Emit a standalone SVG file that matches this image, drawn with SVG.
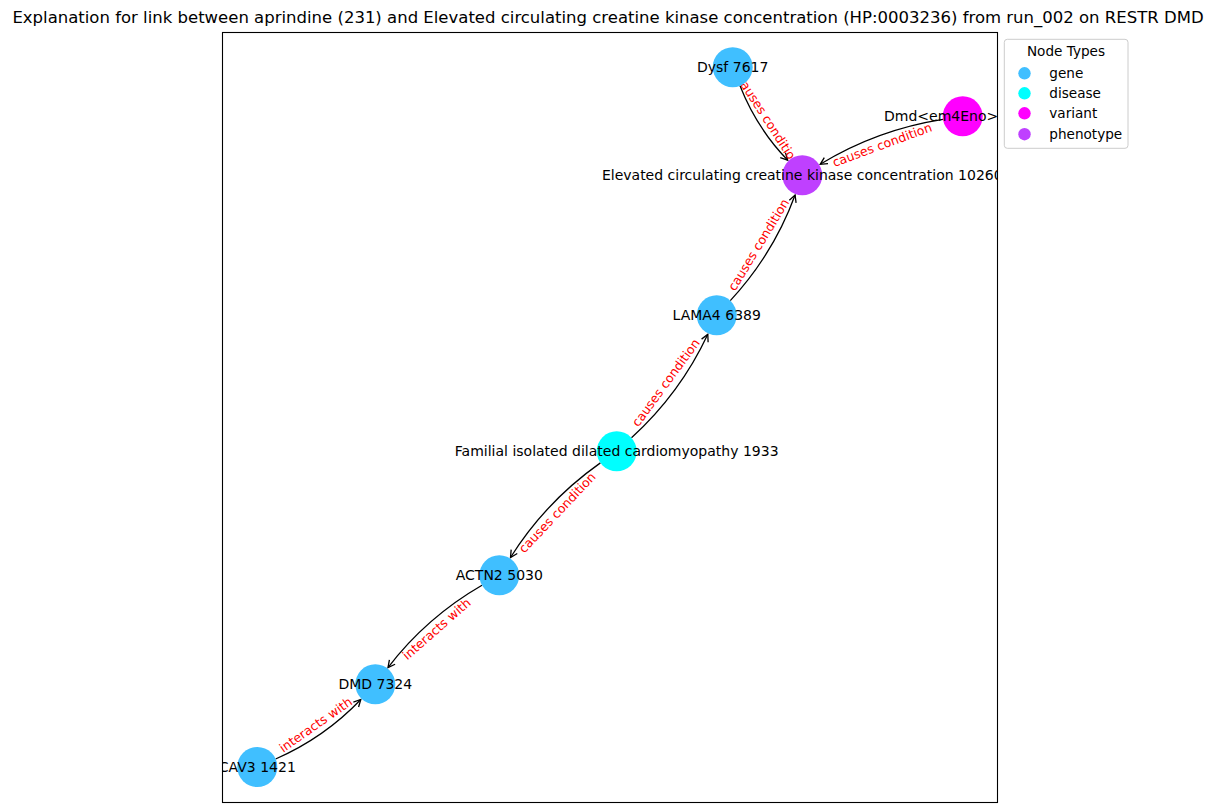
<svg xmlns="http://www.w3.org/2000/svg" width="1218" height="812" viewBox="0 0 1218 812">
<style>
.title{font-family:"DejaVu Sans","Liberation Sans",sans-serif;font-size:16.5px;fill:#000}
.nl{font-family:"DejaVu Sans","Liberation Sans",sans-serif;font-size:14px;fill:#000;text-anchor:middle}
.el{font-family:"DejaVu Sans","Liberation Sans",sans-serif;font-size:12.5px;fill:#ff0000;text-anchor:middle}
.lg{font-family:"DejaVu Sans","Liberation Sans",sans-serif;font-size:13.6px;fill:#000}
.edge{fill:none;stroke:#000;stroke-width:1.3;marker-end:url(#arr)}
.gene{fill:#40bfff}
.disease{fill:#00ffff}
.variant{fill:#ff00ff}
.phenotype{fill:#bf40ff}
</style>
<defs>
<clipPath id="ax"><rect x="222.5" y="32.5" width="775" height="770"/></clipPath>
<marker id="arr" markerUnits="userSpaceOnUse" markerWidth="14" markerHeight="14" viewBox="-10 -7 14 14" refX="0" refY="0" orient="auto" overflow="visible">
<path d="M-7,-3.6 L0,0 L-7,3.6" fill="none" stroke="#000" stroke-width="1.3"/>
</marker>
</defs>
<rect width="1218" height="812" fill="#fff"/>
<text class="title" x="608" y="23" text-anchor="middle">Explanation for link between aprindine (231) and Elevated circulating creatine kinase concentration (HP:0003236) from run_002 on RESTR DMD</text>
<g clip-path="url(#ax)">
<g id="connectors">
<path class="edge" d="M740.0,85.8 Q756.7,128.2 787.7,160.2"/>
<path class="edge" d="M942.9,119.4 Q876.6,129.8 820.2,164.3"/>
<path class="edge" d="M730.3,300.6 Q773.5,253.9 795.1,195.0"/>
<path class="edge" d="M631.5,437.8 Q680.3,393.3 707.8,334.3"/>
<path class="edge" d="M600.4,462.9 Q545.6,501.6 510.5,557.5"/>
<path class="edge" d="M482.0,585.3 Q426.4,617.4 388.0,667.6"/>
<path class="edge" d="M275.6,759.0 Q324.6,737.5 360.8,699.5"/>
<text class="el" transform="translate(767.5,121.25) rotate(57.2)" y="3.3">causes condition</text>
<text class="el" transform="translate(882.5,145.8) rotate(-20.2)" y="3.3">causes condition</text>
<text class="el" transform="translate(759.5,245.3) rotate(-58.6)" y="3.3">causes condition</text>
<text class="el" transform="translate(666.7,383.3) rotate(-53.7)" y="3.3">causes condition</text>
<text class="el" transform="translate(558,513.3) rotate(-46.6)" y="3.3">causes condition</text>
<text class="el" transform="translate(437.3,629.8) rotate(-41.3)" y="3.3">interacts with</text>
<text class="el" transform="translate(316.3,725.65) rotate(-35.0)" y="3.3">interacts with</text>
</g>
<g id="node-dysf"><circle class="gene" cx="732.7" cy="67.2" r="20"/><text class="nl" x="732.7" y="71.9">Dysf 7617</text></g>
<g id="node-dmd-variant"><circle class="variant" cx="962.7" cy="116.3" r="20"/><text class="nl" x="884" y="121" style="text-anchor:start">Dmd&lt;em4Eno&gt;</text></g>
<g id="node-elevated-ck"><circle class="phenotype" cx="802.3" cy="175.3" r="20"/><text class="nl" x="802.3" y="180">Elevated circulating creatine kinase concentration 10260</text></g>
<g id="node-lama4"><circle class="gene" cx="716.7" cy="315.3" r="20"/><text class="nl" x="716.7" y="320">LAMA4 6389</text></g>
<g id="node-familial-dcm"><circle class="disease" cx="616.7" cy="451.3" r="20"/><text class="nl" x="616.7" y="456">Familial isolated dilated cardiomyopathy 1933</text></g>
<g id="node-actn2"><circle class="gene" cx="499.3" cy="575.3" r="20"/><text class="nl" x="499.3" y="580">ACTN2 5030</text></g>
<g id="node-dmd"><circle class="gene" cx="375.3" cy="684.3" r="20"/><text class="nl" x="375.3" y="689">DMD 7324</text></g>
<g id="node-cav3"><circle class="gene" cx="257.3" cy="767" r="20"/><text class="nl" x="257.3" y="771.7">CAV3 1421</text></g>
</g>
<rect x="222.5" y="32.5" width="775" height="770" fill="none" stroke="#000" stroke-width="1.1"/>
<g id="legend">
<rect x="1004.3" y="39.3" width="123.7" height="109" rx="3" fill="#fff" fill-opacity="0.8" stroke="#cccccc" stroke-width="1"/>
<text class="lg" x="1066" y="56.3" text-anchor="middle">Node Types</text>
<circle class="gene" cx="1024.5" cy="73.3" r="6.2"/><text class="lg" x="1049.3" y="78.1">gene</text>
<circle class="disease" cx="1024.5" cy="93.3" r="6.2"/><text class="lg" x="1049.3" y="98.1">disease</text>
<circle class="variant" cx="1024.5" cy="113.3" r="6.2"/><text class="lg" x="1049.3" y="118.1">variant</text>
<circle class="phenotype" cx="1024.5" cy="134.2" r="6.2"/><text class="lg" x="1049.3" y="139">phenotype</text>
</g>
</svg>
